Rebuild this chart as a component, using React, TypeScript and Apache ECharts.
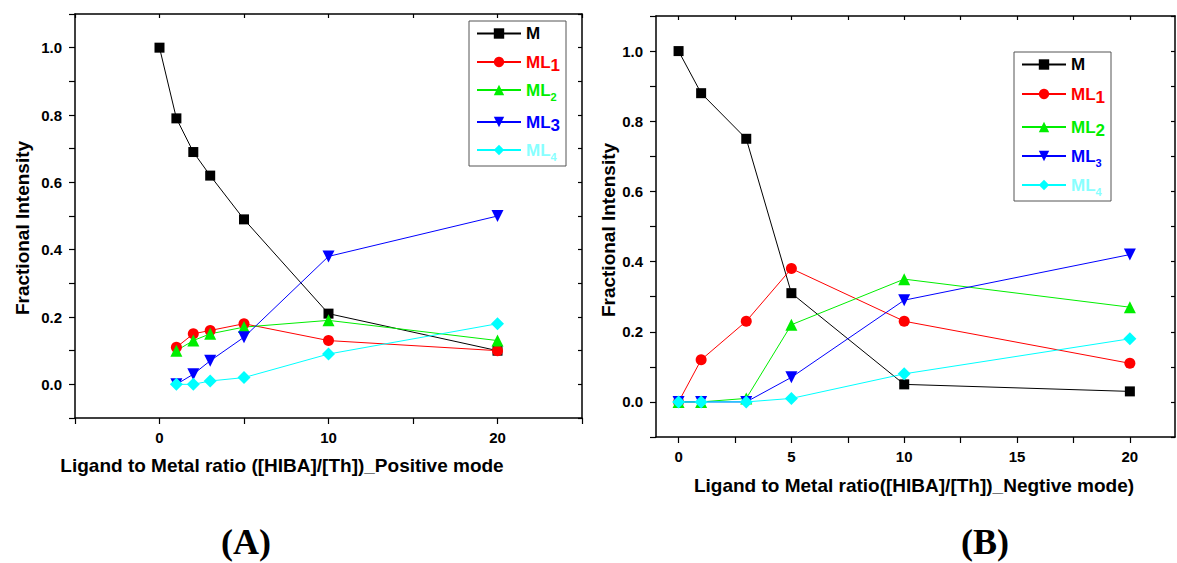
import React, { useEffect, useRef } from "react";
import * as echarts from "echarts";

// ---------- data ----------
const seriesNames = ["M", "ML1", "ML2", "ML3", "ML4"];

// Panel A (positive mode)
const xA_M = [0, 1, 2, 3, 5, 10, 20];
const xA_L = [1, 2, 3, 5, 10, 20];
const yA_M = [1.0, 0.79, 0.69, 0.62, 0.49, 0.21, 0.1];
const yA_ML1 = [0.11, 0.15, 0.16, 0.18, 0.13, 0.1];
const yA_ML2 = [0.1, 0.13, 0.15, 0.17, 0.19, 0.13];
const yA_ML3 = [0.0, 0.03, 0.07, 0.14, 0.38, 0.5];
const yA_ML4 = [0.0, 0.0, 0.01, 0.02, 0.09, 0.18];

// Panel B (negative mode)
const xB = [0, 1, 3, 5, 10, 20];
const yB_M = [1.0, 0.88, 0.75, 0.31, 0.05, 0.03];
const yB_ML1 = [0.0, 0.12, 0.23, 0.38, 0.23, 0.11];
const yB_ML2 = [0.0, 0.0, 0.01, 0.22, 0.35, 0.27];
const yB_ML3 = [0.0, 0.0, 0.0, 0.07, 0.29, 0.42];
const yB_ML4 = [0.0, 0.0, 0.0, 0.01, 0.08, 0.18];

// ticks
const xTicksA = [-5, 0, 5, 10, 15, 20, 25];
const xLabelsA = [0, 10, 20];
const xTicksB = [0, 2.5, 5, 7.5, 10, 12.5, 15, 17.5, 20];
const xLabelsB = [0, 5, 10, 15, 20];
const yTicks = [-0.1, 0, 0.1, 0.2, 0.3, 0.4, 0.5, 0.6, 0.7, 0.8, 0.9, 1.0, 1.1];
const yLabels = [0, 0.2, 0.4, 0.6, 0.8, 1.0];

const xTitleA = "Ligand to Metal ratio ([HIBA]/[Th])_Positive mode";
const xTitleB = "Ligand to Metal ratio([HIBA]/[Th])_Negtive mode)";
const yTitle = "Fractional Intensity";

// ---------- styles ----------
const FONT = '"Liberation Sans", Arial, sans-serif';
const colors: Record<string, string> = {
  M: "#000000",
  ML1: "#ff0000",
  ML2: "#00ee00",
  ML3: "#0000ff",
  ML4: "#00ffff",
};
const symbols: Record<string, string> = {
  M: "rect",
  ML1: "circle",
  ML2: "triangle",
  ML3: "path://M0,0 L10,0 L5,9 Z",
  ML4: "diamond",
};
const sizes: Record<string, number> = { M: 10, ML1: 11, ML2: 12, ML3: 12, ML4: 13 };

function App() {
  const ref = useRef<HTMLDivElement>(null);
  useEffect(() => {
    if (!ref.current) return;
    const chart = echarts.init(ref.current, undefined, { renderer: "svg" });

    const mkSeries = (name: string, xs: number[], ys: number[], xi: number, yi: number) => ({
      type: "line",
      name,
      xAxisIndex: xi,
      yAxisIndex: yi,
      data: xs.map((x, i) => [x, ys[i]]),
      symbol: symbols[name],
      symbolSize: sizes[name],
      showAllSymbol: true,
      lineStyle: { color: colors[name], width: 1 },
      itemStyle: { color: colors[name] },
      emphasis: { disabled: true },
    });

    const axisLine = { show: true, onZero: false, lineStyle: { color: "#000", width: 1.5 } };

    const mkX = (gi: number, min: number, max: number, ticks: number[], labels: number[] | null, top: boolean) => ({
      type: "value",
      gridIndex: gi,
      position: top ? "top" : "bottom",
      min,
      max,
      axisLine,
      splitLine: { show: false },
      axisTick: {
        show: true,
        inside: top,
        length: top ? 4 : 6,
        customValues: ticks,
        lineStyle: { color: "#000", width: 1.2 },
      },
      axisLabel: labels
        ? {
            show: true,
            customValues: labels,
            margin: 12,
            color: "#000",
            fontFamily: FONT,
            fontWeight: "bold",
            fontSize: 15,
            formatter: (v: number) => String(v),
          }
        : { show: false },
    });

    const mkY = (gi: number, right: boolean) => ({
      type: "value",
      gridIndex: gi,
      position: right ? "right" : "left",
      min: -0.1,
      max: 1.1,
      axisLine,
      splitLine: { show: false },
      axisTick: {
        show: true,
        inside: right,
        length: right ? 4 : 6,
        customValues: yTicks,
        lineStyle: { color: "#000", width: 1.2 },
      },
      axisLabel: right
        ? { show: false }
        : {
            show: true,
            customValues: yLabels,
            margin: 13,
            color: "#000",
            fontFamily: FONT,
            fontWeight: "bold",
            fontSize: 15,
            formatter: (v: number) => v.toFixed(1),
          },
    });

    const base = { fontWeight: "bold", fontFamily: FONT, lineHeight: 24 };
    const main = (color: string) => ({ ...base, color, fontSize: 17, verticalAlign: "middle" });
    const bigSub = (color: string) => ({ ...base, color, fontSize: 17, verticalAlign: "bottom", padding: [9, 0, 0, 0] });
    const smallSub = (color: string) => ({ ...base, color, fontSize: 11, verticalAlign: "bottom", padding: [11, 0, 0, 0] });
    const rich = {
      k: main("#000"),
      r: main("#ff0000"),
      g: main("#00ee00"),
      b: main("#0000ff"),
      c: main("#88ffff"),
      rB: bigSub("#ff0000"),
      gB: bigSub("#00ee00"),
      bB: bigSub("#0000ff"),
      gS: smallSub("#00ee00"),
      bS: smallSub("#0000ff"),
      cS: smallSub("#88ffff"),
    };
    const fmtA: Record<string, string> = {
      M: "{k|M}",
      ML1: "{r|ML}{rB|1}",
      ML2: "{g|ML}{gS|2}",
      ML3: "{b|ML}{bB|3}",
      ML4: "{c|ML}{cS|4}",
    };
    const fmtB: Record<string, string> = {
      M: "{k|M}",
      ML1: "{r|ML}{rB|1}",
      ML2: "{g|ML}{gB|2}",
      ML3: "{b|ML}{bS|3}",
      ML4: "{c|ML}{cS|4}",
    };

    const mkLegend = (left: number, top: number, fmt: Record<string, string>, gap: number) => ({
      orient: "vertical",
      left,
      top,
      data: seriesNames,
      itemWidth: 44,
      itemHeight: 13,
      itemGap: gap,
      padding: [4, 6, 4, 7],
      borderColor: "#555",
      borderWidth: 1,
      selectedMode: false,
      formatter: (n: string) => fmt[n],
      textStyle: { rich, fontFamily: FONT, padding: [0, 0, 0, 0] },
    });

    const titleFont = `bold 19px ${FONT}`;
    const labelFont = 'bold 36px "Liberation Serif", "Times New Roman", serif';

    const option = {
      animation: false,
      backgroundColor: "#fff",
      grid: [
        { left: 75, top: 14, width: 507, height: 404 },
        { left: 656, top: 16, width: 519, height: 421 },
      ],
      xAxis: [
        mkX(0, -5, 25, xTicksA, xLabelsA, false),
        mkX(0, -5, 25, xTicksA, null, true),
        mkX(1, -1, 22, xTicksB, xLabelsB, false),
        mkX(1, -1, 22, xTicksB, null, true),
      ],
      yAxis: [mkY(0, false), mkY(0, true), mkY(1, false), mkY(1, true)],
      legend: [mkLegend(469, 21, fmtA, 6), mkLegend(1014, 52, fmtB, 7)],
      series: [
        mkSeries("M", xA_M, yA_M, 0, 0),
        mkSeries("ML1", xA_L, yA_ML1, 0, 0),
        mkSeries("ML2", xA_L, yA_ML2, 0, 0),
        mkSeries("ML3", xA_L, yA_ML3, 0, 0),
        mkSeries("ML4", xA_L, yA_ML4, 0, 0),
        mkSeries("M", xB, yB_M, 2, 2),
        mkSeries("ML1", xB, yB_ML1, 2, 2),
        mkSeries("ML2", xB, yB_ML2, 2, 2),
        mkSeries("ML3", xB, yB_ML3, 2, 2),
        mkSeries("ML4", xB, yB_ML4, 2, 2),
      ],
      graphic: [
        {
          type: "text",
          x: 22,
          y: 228,
          rotation: Math.PI / 2,
          style: { text: yTitle, font: titleFont, fill: "#000", align: "center", verticalAlign: "middle" },
        },
        {
          type: "text",
          x: 608,
          y: 230,
          rotation: Math.PI / 2,
          style: { text: yTitle, font: titleFont, fill: "#000", align: "center", verticalAlign: "middle" },
        },
        {
          type: "text",
          x: 282,
          y: 465,
          style: { text: xTitleA, font: titleFont, fill: "#000", align: "center", verticalAlign: "middle" },
        },
        {
          type: "text",
          x: 914,
          y: 485,
          style: { text: xTitleB, font: titleFont, fill: "#000", align: "center", verticalAlign: "middle" },
        },
        {
          type: "text",
          x: 246,
          y: 542,
          style: { text: "(A)", font: labelFont, fill: "#000", align: "center", verticalAlign: "middle" },
        },
        {
          type: "text",
          x: 985,
          y: 542,
          style: { text: "(B)", font: labelFont, fill: "#000", align: "center", verticalAlign: "middle" },
        },
      ],
    };

    chart.setOption(option as any);
    return () => chart.dispose();
  }, []);

  return (
    <div
      ref={ref}
      style={{ position: "fixed", left: 0, top: 0, width: 1177, height: 563, background: "#fff" }}
    />
  );
}

export default App;
